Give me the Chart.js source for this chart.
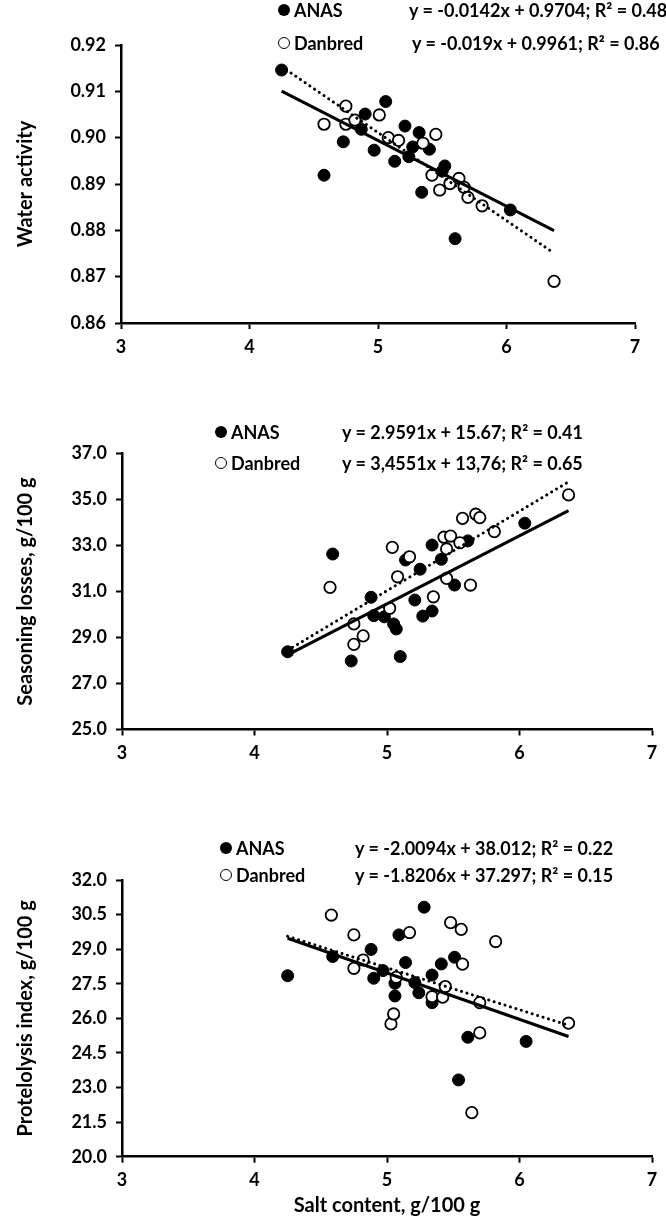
<!DOCTYPE html>
<html><head><meta charset="utf-8">
<script src="https://cdn.jsdelivr.net/npm/chart.js@4.4.1/dist/chart.umd.min.js"></script>
<style>
html,body{margin:0;padding:0;background:#fff;}
#wrap{position:relative;width:666px;height:1218px;overflow:hidden;font-family:Lato,sans-serif;font-weight:700;color:#000;}
canvas{position:absolute;left:0;}
.lg{position:absolute;font-size:18px;line-height:22px;height:22px;white-space:nowrap;transform:translateY(-50%);}
.mk{position:absolute;width:12px;height:12px;border-radius:50%;box-sizing:border-box;transform:translate(-50%,-50%);}
.mk.f{background:#000;}
.mk.o{background:#fff;border:1.8px solid #000;}
</style></head><body>
<div id="wrap">
<canvas id="c1" width="666" height="380" style="top:0px"></canvas>
<canvas id="c2" width="666" height="380" style="top:390px"></canvas>
<canvas id="c3" width="666" height="428" style="top:790px"></canvas>
</div>
<script>
// ---------- DATA ----------
const seriesNames = ['ANAS', 'Danbred'];
const xTicks = [3, 4, 5, 6, 7];
const xTickLabels = ['3', '4', '5', '6', '7'];
const xTitle = 'Salt content, g/100 g';

// Panel 1: water activity
const awTitle = 'Water activity';
const awTicks = [0.86, 0.87, 0.88, 0.89, 0.90, 0.91, 0.92];
const awTickLabels = ['0.86', '0.87', '0.88', '0.89', '0.90', '0.91', '0.92'];
const awSaltAnas = [4.25, 4.58, 4.73, 4.87, 4.90, 4.97, 5.06, 5.13, 5.21, 5.24, 5.27, 5.32, 5.34, 5.40, 5.50, 5.52, 5.60, 6.03];
const awAnas     = [0.9146, 0.8919, 0.8991, 0.9018, 0.9051, 0.8973, 0.9078, 0.8949, 0.9025, 0.8959, 0.8980, 0.9011, 0.8882, 0.8975, 0.8928, 0.8939, 0.8782, 0.8844];
const awSaltDan  = [4.58, 4.75, 4.75, 4.82, 5.01, 5.08, 5.16, 5.35, 5.42, 5.45, 5.48, 5.56, 5.63, 5.67, 5.70, 5.81, 6.37];
const awDan      = [0.9029, 0.9068, 0.9029, 0.9038, 0.9049, 0.9000, 0.8994, 0.8988, 0.8919, 0.9007, 0.8887, 0.8901, 0.8912, 0.8893, 0.8871, 0.8853, 0.8690];
const awFitAnas  = [-0.0142, 0.9704];
const awFitDan   = [-0.019, 0.9961];
const awEq       = ['y = -0.0142x + 0.9704; R² = 0.48', 'y = -0.019x + 0.9961;  R² = 0.86'];

// Panel 2: seasoning losses
const slTitle = 'Seasoning losses, g/100 g';
const slTicks = [25, 27, 29, 31, 33, 35, 37];
const slTickLabels = ['25.0', '27.0', '29.0', '31.0', '33.0', '35.0', '37.0'];
const slSaltAnas = [4.25, 4.59, 4.73, 4.88, 4.90, 4.98, 5.05, 5.07, 5.10, 5.14, 5.21, 5.25, 5.27, 5.34, 5.34, 5.41, 5.51, 5.61, 6.04];
const slAnas     = [28.38, 32.63, 27.98, 30.75, 29.95, 29.90, 29.59, 29.37, 28.17, 32.37, 30.63, 31.97, 29.93, 30.15, 33.02, 32.40, 31.28, 33.20, 33.97];
const slSaltDan  = [4.57, 4.75, 4.75, 4.82, 5.02, 5.04, 5.08, 5.17, 5.35, 5.43, 5.45, 5.45, 5.48, 5.55, 5.57, 5.63, 5.67, 5.70, 5.81, 6.37];
const slDan      = [31.18, 29.59, 28.70, 29.07, 30.27, 32.92, 31.64, 32.51, 30.77, 33.36, 31.57, 32.85, 33.41, 33.12, 34.18, 31.28, 34.36, 34.21, 33.60, 35.20];
const slFitAnas  = [2.9591, 15.67];
const slFitDan   = [3.4551, 13.76];
const slEq       = ['y = 2.9591x + 15.67; R² = 0.41', 'y = 3,4551x + 13,76; R² = 0.65'];

// Panel 3: proteolysis index
const piTitle = 'Protelolysis index, g/100 g';
const piTicks = [20, 21.5, 23, 24.5, 26, 27.5, 29, 30.5, 32];
const piTickLabels = ['20.0', '21.5', '23.0', '24.5', '26.0', '27.5', '29.0', '30.5', '32.0'];
const piSaltAnas = [4.25, 4.59, 4.88, 4.90, 4.97, 5.06, 5.06, 5.09, 5.14, 5.21, 5.24, 5.28, 5.34, 5.34, 5.41, 5.51, 5.54, 5.61, 6.05];
const piAnas     = [27.85, 28.68, 28.99, 27.74, 28.07, 27.52, 26.97, 29.62, 28.42, 27.55, 27.11, 30.82, 27.88, 26.68, 28.36, 28.65, 23.33, 25.18, 25.00];
const piSaltDan  = [4.58, 4.75, 4.75, 4.82, 5.03, 5.05, 5.07, 5.17, 5.34, 5.42, 5.44, 5.48, 5.56, 5.57, 5.64, 5.70, 5.70, 5.82, 6.37];
const piDan      = [30.48, 29.62, 28.17, 28.53, 25.76, 26.19, 27.78, 29.72, 26.94, 26.92, 27.38, 30.15, 29.86, 28.35, 21.91, 25.37, 26.68, 29.33, 25.79];
const piFitAnas  = [-2.0094, 38.012];
const piFitDan   = [-1.8206, 37.297];
const piEq       = ['y = -2.0094x + 38.012; R² = 0.22', 'y = -1.8206x + 37.297; R² = 0.15'];

// ---------- RENDERING ----------
Chart.defaults.font.family = 'Lato, sans-serif';
Chart.defaults.font.weight = 'bold';
Chart.defaults.color = '#000';

const pts = (xs, ys) => xs.map((x, i) => ({x: x, y: ys[i]}));
function fitLine(fit, xs) {
  const lo = Math.min(...xs), hi = Math.max(...xs);
  return [{x: lo, y: fit[0] * lo + fit[1]}, {x: hi, y: fit[0] * hi + fit[1]}];
}

function makePanel(id, cfg) {
  const allX = cfg.xa.concat(cfg.xd);
  new Chart(document.getElementById(id), {
    type: 'scatter',
    data: {
      datasets: [
        {label: seriesNames[0], data: pts(cfg.xa, cfg.ya), pointRadius: 6, pointBackgroundColor: '#000', pointBorderColor: '#000', pointBorderWidth: 1, order: 4},
        {label: seriesNames[1], data: pts(cfg.xd, cfg.yd), pointRadius: 5.7, pointBackgroundColor: '#fff', pointBorderColor: '#000', pointBorderWidth: 1.8, order: 3},
        {type: 'line', data: fitLine(cfg.fa, allX), borderColor: '#000', borderWidth: 3, pointRadius: 0, fill: false, order: 2},
        {type: 'line', data: fitLine(cfg.fd, allX), borderColor: '#000', borderWidth: 3, borderDash: [0.1, 5.6], borderCapStyle: 'round', pointRadius: 0, fill: false, order: 1}
      ]
    },
    options: {
      responsive: false, animation: false, devicePixelRatio: 1,
      events: [],
      layout: {padding: {top: cfg.padTop, right: cfg.padRight, left: 0, bottom: 0}},
      plugins: {legend: {display: false}, tooltip: {enabled: false}},
      scales: {
        x: {
          type: 'linear', min: 3, max: 7,
          afterBuildTicks: s => { s.ticks = xTicks.map(v => ({value: v})); },
          afterFit: s => { s.height = cfg.xh; },
          ticks: {callback: (v, i) => xTickLabels[i], font: {size: 18, weight: 'bold'}, color: '#000', padding: 7, maxRotation: 0, autoSkip: false},
          grid: {drawOnChartArea: false, drawTicks: true, tickLength: 6, tickWidth: 2, color: '#000'},
          border: {display: true, color: '#000', width: 2.5},
          title: {display: !!cfg.xTitle, text: cfg.xTitle || '', font: {size: 20, weight: 'bold'}, color: '#000', padding: {top: 0, bottom: 0}}
        },
        y: {
          type: 'linear', min: cfg.yTicks[0], max: cfg.yTicks[cfg.yTicks.length - 1],
          afterBuildTicks: s => { s.ticks = cfg.yTicks.map(v => ({value: v})); },
          afterFit: s => { s.width = cfg.yw; },
          ticks: {callback: (v, i) => cfg.yLabels[i], font: {size: 18, weight: 'bold'}, color: '#000', padding: 9, autoSkip: false},
          grid: {drawOnChartArea: false, drawTicks: true, tickLength: 6, tickWidth: 2, color: '#000'},
          border: {display: true, color: '#000', width: 2.5},
          title: {display: true, text: cfg.yTitle, font: {size: 20, weight: 'bold'}, color: '#000', padding: {top: 14, bottom: 0}}
        }
      }
    }
  });
}

makePanel('c1', {xa: awSaltAnas, ya: awAnas, xd: awSaltDan, yd: awDan, fa: awFitAnas, fd: awFitDan,
  yTicks: awTicks, yLabels: awTickLabels, yTitle: awTitle, padTop: 45, padRight: 31, xh: 57, yw: 121});
makePanel('c2', {xa: slSaltAnas, ya: slAnas, xd: slSaltDan, yd: slDan, fa: slFitAnas, fd: slFitDan,
  yTicks: slTicks, yLabels: slTickLabels, yTitle: slTitle, padTop: 63.5, padRight: 14, xh: 40.5, yw: 122});
makePanel('c3', {xa: piSaltAnas, ya: piAnas, xd: piSaltDan, yd: piDan, fa: piFitAnas, fd: piFitDan,
  yTicks: piTicks, yLabels: piTickLabels, yTitle: piTitle, xTitle: xTitle, padTop: 90, padRight: 14, xh: 61.3, yw: 122});

// Legends with regression equations
const wrap = document.getElementById('wrap');
function addLegend(rows, textLeft, eqLeft, eqs) {
  rows.forEach((cy, i) => {
    const mk = document.createElement('span');
    mk.className = 'mk ' + (i === 0 ? 'f' : 'o');
    mk.style.left = (textLeft - 10) + 'px';
    mk.style.top = cy + 'px';
    wrap.appendChild(mk);
    const t = document.createElement('div');
    t.className = 'lg'; t.textContent = seriesNames[i];
    t.style.left = textLeft + 'px'; t.style.top = cy + 'px';
    wrap.appendChild(t);
    const e = document.createElement('div');
    e.className = 'lg'; e.textContent = eqs[i];
    e.style.left = eqLeft[i] + 'px'; e.style.top = cy + 'px';
    wrap.appendChild(e);
  });
}
addLegend([10, 43], 294, [409, 412], awEq);
addLegend([432, 463], 231, [342, 342], slEq);
addLegend([848, 875], 236, [355, 355], piEq);
</script>
</body></html>
